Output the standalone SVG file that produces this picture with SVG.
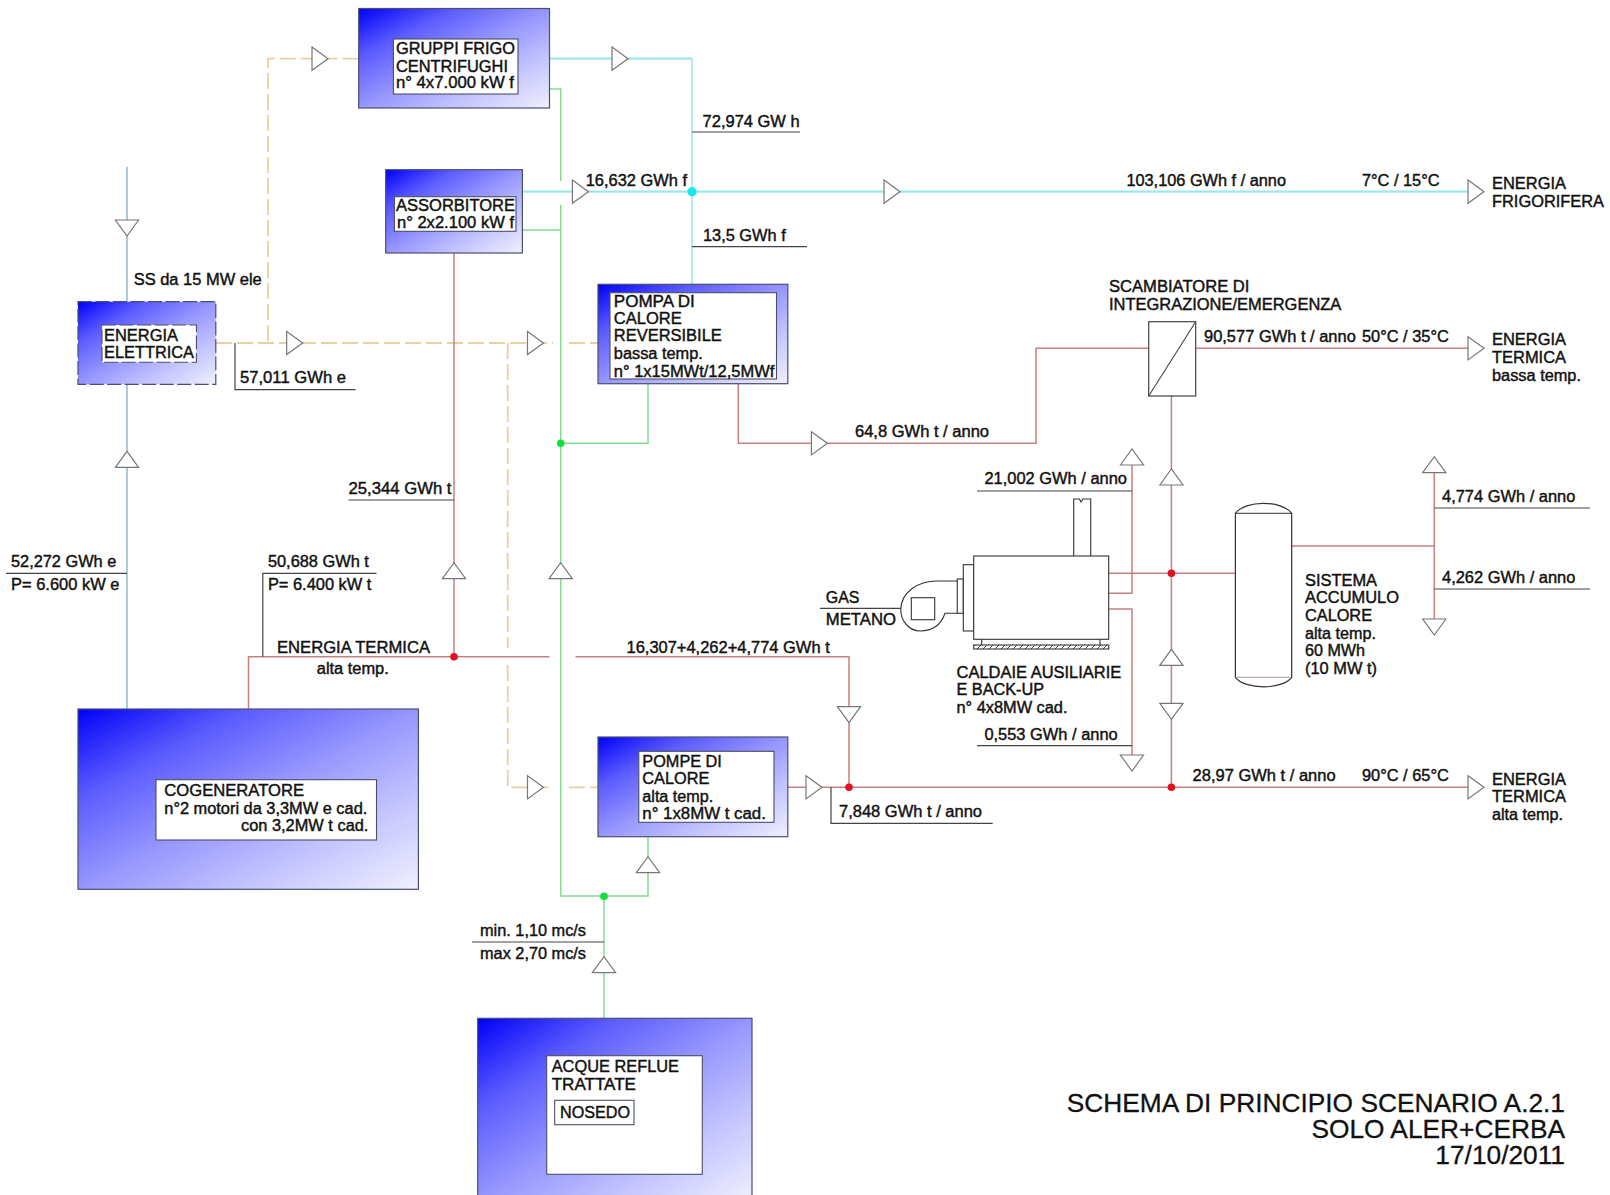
<svg xmlns="http://www.w3.org/2000/svg" width="1610" height="1195" viewBox="0 0 1610 1195">
<style>
text{font-family:"Liberation Sans",Arial,sans-serif;font-size:16px;fill:#111;stroke:#111;stroke-width:.42px}
.title{font-size:26.3px;text-anchor:end;stroke-width:.3px}
.box{fill:url(#g);stroke:#4a4f70;stroke-width:1.2}
.in{fill:#fff;stroke:#4a4f66;stroke-width:1.1}
.dash{stroke-dasharray:14 3.5}
.l{fill:none;stroke-linejoin:miter}
.red{stroke:#c78080;stroke-width:1.5}
.grn{stroke:#84dc8e;stroke-width:1.5}
.cy{stroke:#9be8ec;stroke-width:2.2}
.cy2{stroke:#96e2e6;stroke-width:1.4}
.or{stroke:#eacfa0;stroke-width:1.8;stroke-dasharray:16 5}
.tl{stroke:#6aa3b4;stroke-width:1.1}
.blk{fill:none;stroke:#444;stroke-width:1.2}
.a{fill:#fff;stroke:#777;stroke-width:1.2}
</style>
<defs>
<linearGradient id="g" x1="0" y1="0" x2="1" y2="1"><stop offset="0" stop-color="#0000f8"/><stop offset=".25" stop-color="#5c5cff"/><stop offset=".5" stop-color="#9696ff"/><stop offset=".75" stop-color="#c6c6ff"/><stop offset="1" stop-color="#f0f0ff"/></linearGradient>
<polygon id="ar" class="a" points="0,-11.6 16,0 0,11.6"/>
<pattern id="hatch" width="6" height="6" patternUnits="userSpaceOnUse"><path d="M0 6L6 0" stroke="#444" stroke-width="1"/></pattern>
</defs>
<rect width="1610" height="1195" fill="#fff"/>

<g id="connectors">
<path class="l or" d="M358.7 58.7H268V343"/>
<path class="l or" d="M216 343H553M569 343H598"/>
<path class="l or" d="M507.7 343V648M507.7 665V787.3H553M569 787.3H598"/>
<path class="l cy" d="M549.5 58.7H692"/>
<path class="l cy2" d="M692 58.7V284.3"/>
<path class="l cy" d="M522.4 191.7H1468"/>
<path class="l grn" d="M549.5 89H560.7V181M560.7 205V896H648V836.7M522.4 230H560.7M648 383.7V443.3H560.7M604 896V1018.3"/>
<path class="l red" d="M454 253V656.7M248.5 708.8V656.7H549.5M575.5 656.7H849V787.3"/>
<path class="l red" d="M738.3 383.7V443.3H1036V348.3H1148.7M1195.7 348.3H1468"/>
<path class="l red" d="M787.8 787.3H1468M1171.4 396V787.3"/>
<path class="l red" d="M1108.7 573.3H1235.4M1108.7 593.3H1132V460M1108.7 609H1132V760M1291.7 546H1434.3M1434.3 465V625"/>
<path class="l tl" d="M127 166.7V301.7M127 384V708.8"/>
<path class="blk" d="M692 132H800M692 246.7H807M235 343V389.7H355.6M348.5 500H454M6 573.3H127M262.8 656.7V573.3H376.5M831 787.3V823.3H992.7M977 491H1132M977 745.7H1132M1434.3 508H1590M1434.3 589H1590M472 942H604M820 608.3H911"/>
<use href="#ar" transform="translate(312 58.7)"/>
<use href="#ar" transform="translate(612 58.7)"/>
<use href="#ar" transform="translate(572.4 191.7)"/>
<use href="#ar" transform="translate(884 191.7)"/>
<use href="#ar" transform="translate(1468 191.7)"/>
<use href="#ar" transform="translate(286.7 343)"/>
<use href="#ar" transform="translate(527.5 343)"/>
<use href="#ar" transform="translate(527.5 787.3)"/>
<use href="#ar" transform="translate(806 787.3)"/>
<use href="#ar" transform="translate(1468 787.3)"/>
<use href="#ar" transform="translate(811.4 443.3)"/>
<use href="#ar" transform="translate(1468 348.3)"/>
<use href="#ar" transform="translate(127 220) rotate(90)"/>
<use href="#ar" transform="translate(127 467.3) rotate(-90)"/>
<use href="#ar" transform="translate(454 578.7) rotate(-90)"/>
<use href="#ar" transform="translate(560.7 578.7) rotate(-90)"/>
<use href="#ar" transform="translate(648 872.7) rotate(-90)"/>
<use href="#ar" transform="translate(604 972.7) rotate(-90)"/>
<use href="#ar" transform="translate(849 706.7) rotate(90)"/>
<use href="#ar" transform="translate(1132 465) rotate(-90)"/>
<use href="#ar" transform="translate(1132 755) rotate(90)"/>
<use href="#ar" transform="translate(1171.4 485) rotate(-90)"/>
<use href="#ar" transform="translate(1171.4 665.3) rotate(-90)"/>
<use href="#ar" transform="translate(1171.4 703.3) rotate(90)"/>
<use href="#ar" transform="translate(1434.3 472.7) rotate(-90)"/>
<use href="#ar" transform="translate(1434.3 619) rotate(90)"/>
<circle cx="692" cy="191.7" r="4.6" fill="#17e6f0"/>
<circle cx="560.7" cy="443.3" r="3.8" fill="#11e03c"/>
<circle cx="604" cy="896.3" r="3.8" fill="#11e03c"/>
<circle cx="454" cy="656.7" r="3.8" fill="#e01020"/>
<circle cx="849" cy="787.3" r="3.8" fill="#e01020"/>
<circle cx="1171.4" cy="573.3" r="3.8" fill="#e01020"/>
<circle cx="1171.4" cy="787.3" r="3.8" fill="#e01020"/>
</g>

<g id="gruppi-frigo">
<rect class="box" x="358.7" y="8.5" width="190.8" height="99.5"/>
<rect class="in" x="393.4" y="39" width="124.6" height="55"/>
<text x="396" y="54" textLength="119" lengthAdjust="spacingAndGlyphs">GRUPPI FRIGO</text>
<text x="396" y="71.5" textLength="112" lengthAdjust="spacingAndGlyphs">CENTRIFUGHI</text>
<text x="396" y="88" textLength="118" lengthAdjust="spacingAndGlyphs">n° 4x7.000 kW f</text>
</g>
<g id="assorbitore">
<rect class="box" x="385.7" y="169.7" width="136.7" height="83.3"/>
<rect class="in" x="394.4" y="196.7" width="121.6" height="34.6"/>
<text x="396" y="210.7" textLength="119" lengthAdjust="spacingAndGlyphs">ASSORBITORE</text>
<text x="397" y="227.7" textLength="117" lengthAdjust="spacingAndGlyphs">n° 2x2.100 kW f</text>
</g>
<g id="energia-elettrica">
<rect class="box dash" x="78" y="301.7" width="137.8" height="82.6"/>
<rect class="in dash" x="102" y="325" width="94.4" height="37.3"/>
<text x="104" y="340.7" textLength="74" lengthAdjust="spacingAndGlyphs">ENERGIA</text>
<text x="104" y="358" textLength="90" lengthAdjust="spacingAndGlyphs">ELETTRICA</text>
</g>
<g id="pompa-reversibile">
<rect class="box" x="598" y="284.3" width="189.8" height="99.4"/>
<rect class="in" x="610" y="292.7" width="166.5" height="86.3"/>
<text x="613.8" y="306.7" textLength="81" lengthAdjust="spacingAndGlyphs">POMPA DI</text>
<text x="613.8" y="324" textLength="68" lengthAdjust="spacingAndGlyphs">CALORE</text>
<text x="613.8" y="341.3" textLength="108" lengthAdjust="spacingAndGlyphs">REVERSIBILE</text>
<text x="613.8" y="359.3" textLength="89" lengthAdjust="spacingAndGlyphs">bassa temp.</text>
<text x="613.8" y="376.7" textLength="160.5" lengthAdjust="spacingAndGlyphs">n° 1x15MWt/12,5MWf</text>
</g>
<g id="cogeneratore">
<rect class="box" x="78" y="709" width="340.4" height="180.3"/>
<rect class="in" x="156" y="779.7" width="220.5" height="60.3"/>
<text x="164.3" y="796" textLength="139.7" lengthAdjust="spacingAndGlyphs">COGENERATORE</text>
<text x="164.3" y="814" textLength="203" lengthAdjust="spacingAndGlyphs">n°2 motori da 3,3MW e cad.</text>
<text x="241" y="831.3" textLength="127.4" lengthAdjust="spacingAndGlyphs">con 3,2MW t cad.</text>
</g>
<g id="pompe-alta">
<rect class="box" x="598" y="737" width="189.8" height="99.7"/>
<rect class="in" x="638.8" y="751.3" width="135.2" height="71"/>
<text x="642.3" y="766.7" textLength="79.6" lengthAdjust="spacingAndGlyphs">POMPE DI</text>
<text x="642.3" y="784" textLength="67" lengthAdjust="spacingAndGlyphs">CALORE</text>
<text x="642.3" y="801.7" textLength="71" lengthAdjust="spacingAndGlyphs">alta temp.</text>
<text x="642.3" y="819" textLength="123.5" lengthAdjust="spacingAndGlyphs">n° 1x8MW t cad.</text>
</g>
<g id="acque-reflue">
<rect class="box" x="477.7" y="1018.3" width="274.3" height="184"/>
<rect class="in" x="546.7" y="1055.7" width="155.6" height="118.6"/>
<text x="551.7" y="1072.3" textLength="127.3" lengthAdjust="spacingAndGlyphs">ACQUE REFLUE</text>
<text x="551.7" y="1090" textLength="84.3" lengthAdjust="spacingAndGlyphs">TRATTATE</text>
<rect class="in" x="554.7" y="1100.3" width="79.3" height="24.4"/>
<text x="560" y="1118.3" textLength="70" lengthAdjust="spacingAndGlyphs">NOSEDO</text>
</g>
<g id="scambiatore">
<rect x="1148.7" y="321.7" width="47" height="74.3" fill="#fff" stroke="#444" stroke-width="1.2"/>
<path d="M1148.7 396L1195.7 321.7" stroke="#444" stroke-width="1.1" fill="none"/>
<text x="1109" y="292.3" textLength="140.4" lengthAdjust="spacingAndGlyphs">SCAMBIATORE DI</text>
<text x="1109" y="310" textLength="232.3" lengthAdjust="spacingAndGlyphs">INTEGRAZIONE/EMERGENZA</text>
</g>
<g id="caldaie">
<g fill="#fff" stroke="#333" stroke-width="1.1">
<path d="M1073.7 556V499H1079.5L1081 502L1083 499H1090.7V556"/>
<path d="M957.3 581H937C918 581 901 592 900.7 610C901 622 910 631 920 631C932 631 941 625 945 613.3H957.3"/>
<rect x="957.3" y="579" width="6" height="34.3"/>
<rect x="963.3" y="564.7" width="10.4" height="66.3"/>
<rect x="911.3" y="597.7" width="23.4" height="22"/>
<rect x="973.7" y="556" width="135" height="83.3"/>
<path d="M981.7 639.3V645M1100 639.3V645"/>
<rect x="973.7" y="645" width="135" height="4" fill="url(#hatch)"/>
</g>
<text x="825.8" y="603.3" textLength="33.6" lengthAdjust="spacingAndGlyphs">GAS</text>
<text x="825.8" y="625.3" textLength="70.2" lengthAdjust="spacingAndGlyphs">METANO</text>
<text x="956.5" y="678.3" textLength="164.8" lengthAdjust="spacingAndGlyphs">CALDAIE AUSILIARIE</text>
<text x="956.5" y="695.3" textLength="87.5" lengthAdjust="spacingAndGlyphs">E BACK-UP</text>
<text x="956.5" y="713" textLength="111" lengthAdjust="spacingAndGlyphs">n° 4x8MW cad.</text>
</g>
<g id="accumulo">
<path d="M1235.4 513.3C1245 500 1282 500 1291.7 513.3V677.3C1282 690 1245 690 1235.4 677.3Z" fill="#fff" stroke="#333" stroke-width="1.2"/>
<path d="M1235.4 513.3H1291.7" stroke="#333" fill="none"/>
<path d="M1237 677.3H1290" stroke="#a99" fill="none"/>
<text x="1305" y="586" textLength="72" lengthAdjust="spacingAndGlyphs">SISTEMA</text>
<text x="1305" y="603.3" textLength="94" lengthAdjust="spacingAndGlyphs">ACCUMULO</text>
<text x="1305" y="620.7" textLength="67" lengthAdjust="spacingAndGlyphs">CALORE</text>
<text x="1305" y="639" textLength="71" lengthAdjust="spacingAndGlyphs">alta temp.</text>
<text x="1305" y="656.3" textLength="60" lengthAdjust="spacingAndGlyphs">60 MWh</text>
<text x="1305" y="673.7" textLength="72" lengthAdjust="spacingAndGlyphs">(10 MW t)</text>
</g>
<g id="labels">
<text x="702.6" y="126.7" textLength="97" lengthAdjust="spacingAndGlyphs">72,974 GW h</text>
<text x="585.7" y="186" textLength="101.3" lengthAdjust="spacingAndGlyphs">16,632 GWh f</text>
<text x="703" y="241" textLength="82.7" lengthAdjust="spacingAndGlyphs">13,5 GWh f</text>
<text x="1126.4" y="186" textLength="159.6" lengthAdjust="spacingAndGlyphs">103,106 GWh f / anno</text>
<text x="1362" y="186" textLength="77.5" lengthAdjust="spacingAndGlyphs">7°C / 15°C</text>
<text x="1492" y="189" textLength="74" lengthAdjust="spacingAndGlyphs">ENERGIA</text>
<text x="1492" y="206.7" textLength="112" lengthAdjust="spacingAndGlyphs">FRIGORIFERA</text>
<text x="133.7" y="285" textLength="128" lengthAdjust="spacingAndGlyphs">SS da 15 MW ele</text>
<text x="240" y="383" textLength="106" lengthAdjust="spacingAndGlyphs">57,011 GWh e</text>
<text x="855" y="436.7" textLength="134" lengthAdjust="spacingAndGlyphs">64,8 GWh t / anno</text>
<text x="1204" y="342" textLength="151.8" lengthAdjust="spacingAndGlyphs">90,577 GWh t / anno</text>
<text x="1362" y="342" textLength="86.8" lengthAdjust="spacingAndGlyphs">50°C / 35°C</text>
<text x="1492" y="345.3" textLength="74" lengthAdjust="spacingAndGlyphs">ENERGIA</text>
<text x="1492" y="363.3" textLength="74" lengthAdjust="spacingAndGlyphs">TERMICA</text>
<text x="1492" y="380.7" textLength="89" lengthAdjust="spacingAndGlyphs">bassa temp.</text>
<text x="984.4" y="484" textLength="142.6" lengthAdjust="spacingAndGlyphs">21,002 GWh / anno</text>
<text x="984.4" y="740" textLength="133.3" lengthAdjust="spacingAndGlyphs">0,553 GWh / anno</text>
<text x="1442" y="502" textLength="133.3" lengthAdjust="spacingAndGlyphs">4,774 GWh / anno</text>
<text x="1442" y="583.3" textLength="133.3" lengthAdjust="spacingAndGlyphs">4,262 GWh / anno</text>
<text x="348.5" y="494.3" textLength="103" lengthAdjust="spacingAndGlyphs">25,344 GWh t</text>
<text x="11" y="567.3" textLength="105.3" lengthAdjust="spacingAndGlyphs">52,272 GWh e</text>
<text x="11" y="590" textLength="108.4" lengthAdjust="spacingAndGlyphs">P= 6.600 kW e</text>
<text x="267.9" y="567.3" textLength="101" lengthAdjust="spacingAndGlyphs">50,688 GWh t</text>
<text x="267.9" y="590" textLength="103.5" lengthAdjust="spacingAndGlyphs">P= 6.400 kW t</text>
<text x="277" y="653.3" textLength="153" lengthAdjust="spacingAndGlyphs">ENERGIA TERMICA</text>
<text x="316.8" y="673.7" textLength="72" lengthAdjust="spacingAndGlyphs">alta temp.</text>
<text x="626.5" y="653.3" textLength="203.2" lengthAdjust="spacingAndGlyphs">16,307+4,262+4,774 GWh t</text>
<text x="839" y="817.3" textLength="143" lengthAdjust="spacingAndGlyphs">7,848 GWh t / anno</text>
<text x="1192.6" y="780.7" textLength="143" lengthAdjust="spacingAndGlyphs">28,97 GWh t / anno</text>
<text x="1362" y="780.7" textLength="86.8" lengthAdjust="spacingAndGlyphs">90°C / 65°C</text>
<text x="1492" y="785" textLength="74" lengthAdjust="spacingAndGlyphs">ENERGIA</text>
<text x="1492" y="802.3" textLength="74" lengthAdjust="spacingAndGlyphs">TERMICA</text>
<text x="1492" y="820" textLength="71" lengthAdjust="spacingAndGlyphs">alta temp.</text>
<text x="480" y="936" textLength="106" lengthAdjust="spacingAndGlyphs">min. 1,10 mc/s</text>
<text x="480" y="958.7" textLength="106" lengthAdjust="spacingAndGlyphs">max 2,70 mc/s</text>
<text class="title" x="1565" y="1112">SCHEMA DI PRINCIPIO SCENARIO A.2.1</text>
<text class="title" x="1565" y="1138">SOLO ALER+CERBA</text>
<text class="title" x="1565" y="1164">17/10/2011</text>
</g>
</svg>
